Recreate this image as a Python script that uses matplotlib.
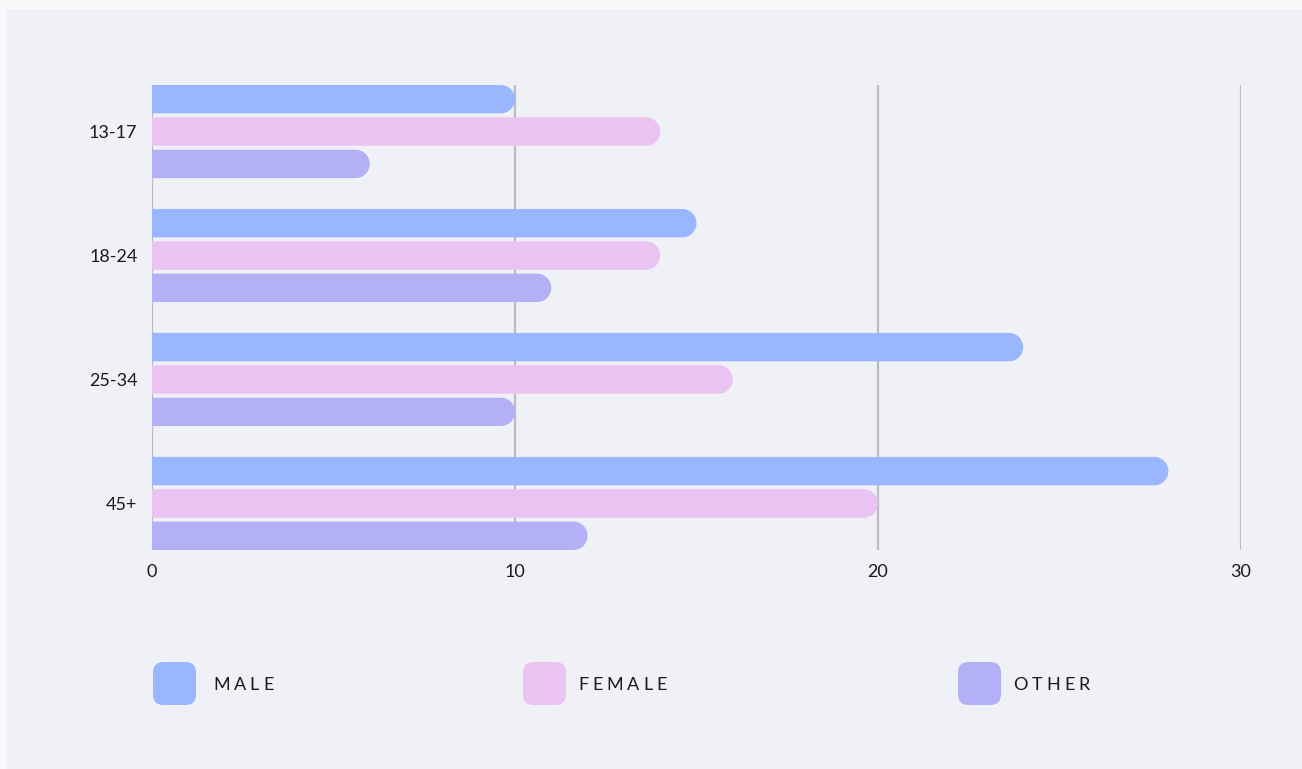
import matplotlib
matplotlib.use("Agg")
import matplotlib.pyplot as plt
from matplotlib.patches import Rectangle, FancyBboxPatch, PathPatch
from matplotlib.path import Path
import numpy as np

categories = ["13-17", "18-24", "25-34", "45+"]
series_names = ["MALE", "FEMALE", "OTHER"]
male = [10, 15, 24, 28]
female = [14, 14, 16, 20]
other = [6, 11, 10, 12]
x_ticks = [0, 10, 20, 30]
colors = ["#9AB6FF", "#E9C3F2", "#B4B0F6"]

W, H, DPI = 1302, 769, 100
fig = plt.figure(figsize=(W / DPI, H / DPI), dpi=DPI)
fig.patch.set_facecolor("#F9F9F9")
fig.patches.append(Rectangle((7 / W, 0), 1, 1 - 9 / H, transform=fig.transFigure,
                             facecolor="#F0F1F6", edgecolor="none", zorder=-10))

FONT = ["Lato", "DejaVu Sans"]
TXT = "#1a1a1a"

# axes: x 152..1241, y 85..550 (pixels from top)
ax = fig.add_axes([152 / W, 1 - 550 / H, (1241 - 152) / W, (550 - 85) / H])
ax.set_facecolor("none")

group_y = np.arange(len(categories))
pitch = 0.261
bar_h = 0.229
series = [male, female, other]
bars_all = []
for i, (vals, c) in enumerate(zip(series, colors)):
    ypos = group_y + (i - 1) * pitch
    bars = ax.barh(ypos, vals, height=bar_h, color=c, zorder=3)
    bars_all.append(bars)

ax.set_xlim(0, 30)
top = group_y[0] - pitch - bar_h / 2
bot = group_y[-1] + pitch + bar_h / 2
ax.set_ylim(bot, top)
ax.set_xticks(x_ticks)
ax.set_yticks(group_y)
ax.set_yticklabels(categories)
for s in ax.spines.values():
    s.set_visible(False)
ax.tick_params(axis="both", length=0, labelsize=13, labelcolor=TXT)
ax.tick_params(axis="x", pad=10)
ax.tick_params(axis="y", pad=10.5)
for lab in ax.get_xticklabels() + ax.get_yticklabels():
    lab.set_fontfamily(FONT)
for xv in x_ticks:
    ax.axvline(xv, color="#BBBBC0", lw=1.6, zorder=1)

# round the right end of each bar
fig.canvas.draw()
inv = ax.transData.inverted()
for bars in bars_all:
    for rect in bars:
        (x0, y0), (x1, y1) = ax.transData.transform(
            [(rect.get_x(), rect.get_y()), (rect.get_x() + rect.get_width(), rect.get_y() + rect.get_height())])
        ylo, yhi = min(y0, y1), max(y0, y1)
        r = (yhi - ylo) / 2
        cx = x1 - r
        cy = (ylo + yhi) / 2
        th = np.linspace(-np.pi / 2, np.pi / 2, 40)
        pts = [(x0, ylo)] + [(cx + r * np.cos(t), cy + r * np.sin(t)) for t in th] + [(x0, yhi), (x0, ylo)]
        dpts = inv.transform(pts)
        codes = [Path.MOVETO] + [Path.LINETO] * (len(dpts) - 2) + [Path.CLOSEPOLY]
        patch = PathPatch(Path(dpts, codes), facecolor=rect.get_facecolor(), edgecolor="none", zorder=3)
        ax.add_patch(patch)
        rect.set_visible(False)

# legend
renderer = fig.canvas.get_renderer()
def spaced_text(x_px, y_px, s, size=13, spacing=4.0):
    x = x_px
    for ch in s:
        t = fig.text(x / W, 1 - y_px / H, ch, fontsize=size, family=FONT, color=TXT,
                     va="center_baseline", ha="left")
        bb = t.get_window_extent(renderer)
        x += bb.width + spacing

leg_sq = [153, 523, 958]
leg_tx = [213, 578, 1013]
for sx, tx, c, name in zip(leg_sq, leg_tx, colors, series_names):
    p = FancyBboxPatch((sx / W, 1 - 705 / H), 43 / W, 43 / H,
                       boxstyle="round,pad=0,rounding_size=0.008",
                       mutation_aspect=W / H,
                       transform=fig.transFigure, facecolor=c, edgecolor="none")
    fig.patches.append(p)
    spaced_text(tx, 684, name)

fig.savefig("out.png", dpi=DPI, facecolor=fig.get_facecolor())
